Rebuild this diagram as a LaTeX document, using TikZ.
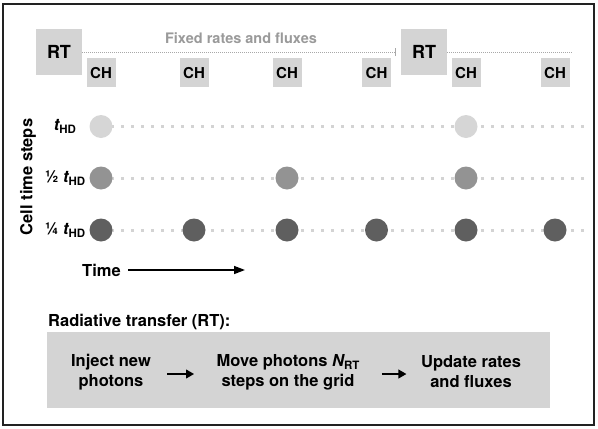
\documentclass[tikz,border=0pt]{standalone}
\usepackage{fontspec}
\setmainfont{TeX Gyre Heros}
\usetikzlibrary{arrows.meta,backgrounds}
\definecolor{boxgray}{HTML}{D4D4D4}
\definecolor{dotlight}{HTML}{D6D6D6}
\definecolor{dotmid}{HTML}{939393}
\definecolor{dotdark}{HTML}{5F5F5F}
\definecolor{rowdot}{HTML}{D3D3D3}
\definecolor{framec}{HTML}{222222}
\definecolor{fixedc}{HTML}{9A9A9A}
\definecolor{finec}{HTML}{A8A8A8}
\newcommand{\lowsub}[1]{\raisebox{-0.35ex}{\fontsize{11.5}{11.5}\selectfont #1}}
\begin{document}
\begin{tikzpicture}[x=1pt,y=-1pt,
  font=\bfseries\fontsize{16.5}{20}\selectfont,
  rtbox/.style={fill=boxgray, minimum width=46pt, minimum height=46pt, inner sep=0pt, font=\bfseries\fontsize{18}{18}\selectfont},
  chbox/.style={fill=boxgray, minimum width=29pt, minimum height=29pt, inner sep=0pt, font=\bfseries\fontsize{15}{15}\selectfont},
  fineline/.style={draw=finec, line width=1pt, dash pattern=on 1pt off 1pt},
  rowline/.style={draw=rowdot, line width=3pt, dash pattern=on 3pt off 7pt},
  dotbase/.style={circle, minimum size=23pt, inner sep=0pt},
  dotl/.style={dotbase, fill=dotlight},
  dotm/.style={dotbase, fill=dotmid},
  dotd/.style={dotbase, fill=dotdark},
  arrB/.style={line width=2pt, -{Triangle[length=8pt,width=8.5pt]}},
]
\useasboundingbox (0,0) rectangle (598,429);
\draw[framec, line width=2pt] (3,4) rectangle (594,425);

% top timeline
\node[rtbox] (rt1) at (59,52) {RT};
\node[rtbox] (rt2) at (424,52) {RT};
\node[chbox] (ch1) at (101,72.8) {CH};
\node[chbox] (ch2) at (194,72.8) {CH};
\node[chbox] (ch3) at (287,72.8) {CH};
\node[chbox] (ch4) at (376.5,72.8) {CH};
\node[chbox] (ch5) at (466,72.8) {CH};
\node[chbox] (ch6) at (555,72.8) {CH};
\coordinate (tick) at (395,52);
\coordinate (topend) at (572,52);
\draw[fineline] (rt1.east) -- (tick);
\draw[finec, line width=1pt] ([yshift=-4pt]tick) -- ([yshift=4pt]tick);
\draw[fineline] (rt2.east) -- (topend);
\node[text=fixedc, font=\bfseries\fontsize{14.5}{14.5}\selectfont] (fixed) at (241,38) {Fixed rates and fluxes};

% dots
\node[dotl] (a1) at (101,126.5) {};
\node[dotl] (a2) at (466,126.5) {};
\node[dotm] (b1) at (101,178) {};
\node[dotm] (b2) at (287,178) {};
\node[dotm] (b3) at (466,178) {};
\node[dotd] (c1) at (101,230) {};
\node[dotd] (c2) at (194,230) {};
\node[dotd] (c3) at (287,230) {};
\node[dotd] (c4) at (376.5,230) {};
\node[dotd] (c5) at (466,230) {};
\node[dotd] (c6) at (555,230) {};
\coordinate (ea) at (587,126.5);
\coordinate (eb) at (587,178);
\coordinate (ec) at (587,230);
\begin{scope}[on background layer]
  \draw[rowline] (a1.center) -- (ea);
  \draw[rowline] (b1.center) -- (eb);
  \draw[rowline] (c1.center) -- (ec);
\end{scope}

% labels
\node (la) at (65,126.5) {{\itshape t}\lowsub{HD}};
\node (lb) at (65,178) {½ {\itshape t}\lowsub{HD}};
\node (lc) at (65,230) {¼ {\itshape t}\lowsub{HD}};
\node[rotate=90] (cts) at (28,177) {Cell time steps};
\node (time) at (101.5,270) {Time};
\coordinate (tend) at (245,270);
\draw[line width=1.5pt, -{Triangle[length=11pt,width=8pt]}] ([xshift=4pt]time.east) -- (tend);

% radiative transfer panel
\node[anchor=west] (rtlabel) at (44.7,322) {Radiative transfer (RT):};
\node[fill=boxgray, minimum width=503pt, minimum height=76pt, inner sep=0pt] (panel) at (298.5,370) {};
\node[align=center] (inj) at (111,372) {Inject new\\photons};
\node[align=center] (mov) at (288,372) {Move photons {\itshape N}\lowsub{RT}\\steps on the grid};
\node[align=center] (upd) at (471,372) {Update rates\\and fluxes};
\draw[arrB, shorten <=13pt, shorten >=19pt] ([yshift=-2pt]inj.east) -- ([yshift=-2pt]mov.west);
\draw[arrB, shorten <=19pt, shorten >=11pt] ([yshift=-2pt]mov.east) -- ([yshift=-2pt]upd.west);
\end{tikzpicture}
\end{document}
